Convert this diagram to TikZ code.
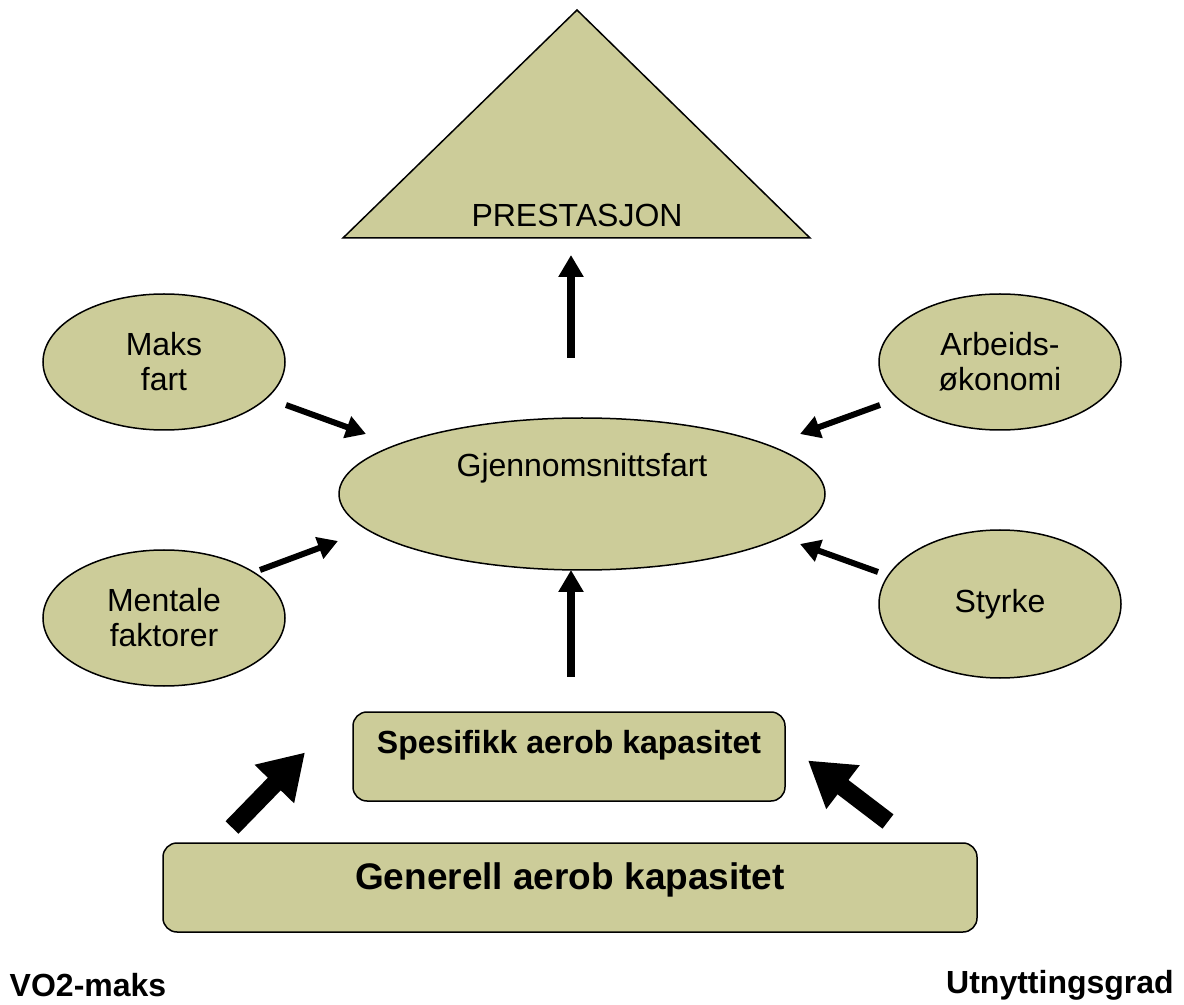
\documentclass[tikz,border=0pt]{standalone}
\usepackage{fontspec}
\setmainfont{Liberation Sans}
\usetikzlibrary{shapes.geometric}
\usetikzlibrary{arrows.meta}
\definecolor{oliven}{HTML}{CCCC99}

\tikzset{
  boble/.style={ellipse, draw, line width=0.75pt, fill=oliven, inner sep=0pt,
    align=center, font=\fontsize{16}{17.5}\selectfont},
  kasse/.style={rectangle, rounded corners=7pt, draw, line width=0.75pt, fill=oliven},
  tynnpil/.style={line width=3pt, -{Triangle[length=10pt,width=11pt]}},
  rettpil/.style={line width=4pt, -{Triangle[length=11pt,width=12pt]}},
  storpil/.style={line width=9pt, -{Triangle[length=22pt,width=26pt]}},
  tekst/.style={font=\fontsize{16}{17.5}\selectfont}
}

\begin{document}
\begin{tikzpicture}[x=0.5pt,y=-0.5pt]
  \useasboundingbox (0,0) rectangle (1184,1005);

  \draw[line width=0.75pt, fill=oliven] (343,238) -- (577,10) -- (810,238) -- cycle; % topp
  \node[tekst] (prest) at (577,215) {PRESTASJON};

  \node[boble, minimum width=243pt, minimum height=76pt] (gjen) at (582,494) {};
  \node[tekst] (gjentekst) at (582,468) {Gjennomsnittsfart};

  \node[boble, minimum width=121pt, minimum height=68pt] (maks) at (164,362) {Maks\\fart};
  \node[boble, minimum width=121pt, minimum height=68pt] (arb) at (1000,362) {Arbeids-\\økonomi};
  \node[boble, minimum width=121pt, minimum height=68pt] (ment) at (164,618) {Mentale\\faktorer};
  \node[boble, minimum width=121pt, minimum height=74pt] (styrke) at (1000,604) {Styrke};

  \node[kasse, minimum width=216pt, minimum height=44.5pt] (spes) at (569,756.5) {};
  \node[tekst, font=\fontsize{16}{17.5}\selectfont\bfseries] (spestekst) at (569,745) {Spesifikk aerob kapasitet};

  \node[kasse, minimum width=407pt, minimum height=44.5pt] (gen) at (570,887.5) {};
  \node[tekst, font=\fontsize{18.5}{20}\selectfont\bfseries] (gentekst) at (570,880) {Generell aerob kapasitet};

  \node[tekst, font=\fontsize{16}{17.5}\selectfont\bfseries] (vo2) at (88,985) {VO2-maks};
  \node[tekst, font=\fontsize{16}{17.5}\selectfont\bfseries] (utn) at (1060,985) {Utnyttingsgrad};

  % piler
  \draw[rettpil] ([shift={(-11,-136)}]gjen.center) -- ([shift={(-6,40)}]prest.center);
  \draw[rettpil] ([shift={(2,-80)}]spes.center) -- ([shift={(-11,76)}]gjen.center);

  \draw[tynnpil] ([shift={(122,43)}]maks.center) -- ([shift={(-216,-60)}]gjen.center);
  \draw[tynnpil] ([shift={(-120,43)}]arb.center) -- ([shift={(218,-60)}]gjen.center);
  \draw[tynnpil] ([shift={(96,-48)}]ment.center) -- ([shift={(-244,47)}]gjen.center);
  \draw[tynnpil] ([shift={(-122,-32)}]styrke.center) -- ([shift={(218,50)}]gjen.center);

  \draw[storpil] ([shift={(-338,-60)}]gen.center) -- ([shift={(-264,-4)}]spes.center);
  \draw[storpil] ([shift={(318,-66)}]gen.center) -- ([shift={(239,4)}]spes.center);
\end{tikzpicture}
\end{document}
